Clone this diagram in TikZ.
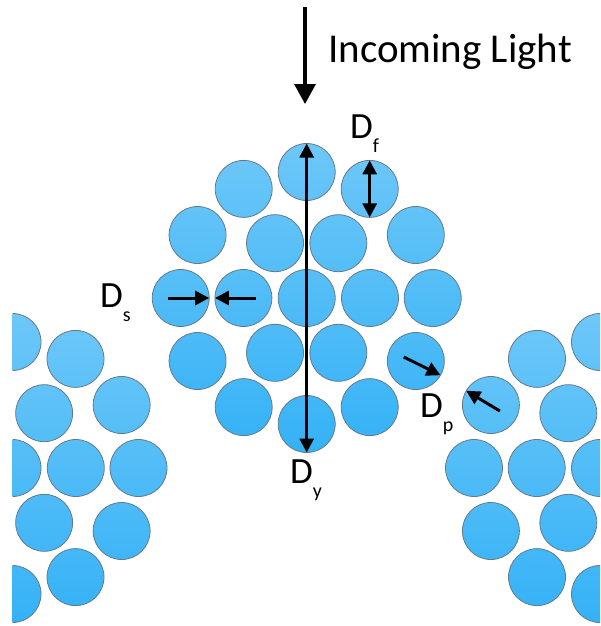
\documentclass[tikz,border=0pt]{standalone}
\usepackage{fontspec}
\setmainfont{Carlito}
\usetikzlibrary{arrows.meta}

\definecolor{fiblight}{RGB}{112,200,248}
\definecolor{fibdark}{RGB}{42,174,246}
\definecolor{fibedge}{RGB}{100,122,138}

\newcommand\dlabel[1]{D\raisebox{-14pt}{\fontsize{20}{20}\selectfont #1}}

% one bundle: centre fibre, ring of 6, ring of 12
\newcommand\fibrebundle[3]{%
  \foreach \ring/\lastk/\rad in {c/0/0,i/5/63.3,o/11/126}{%
    \foreach \k in {0,...,\lastk}{%
      \pgfmathsetmacro\ang{360*\k/(\lastk+1)}%
      \pgfmathtruncatemacro\shtop{(\rad*sin(\ang)+140)*0.25}%
      \pgfmathtruncatemacro\shbot{\shtop+20}%
      \node[fibre,top color=fibdark!\shtop!fiblight,bottom color=fibdark!\shbot!fiblight]
        (#1-\ring\k) at ({#2+\rad*cos(\ang)},{#3+\rad*sin(\ang)}) {};
    }}}

\begin{document}
\begin{tikzpicture}[x=1pt,y=-1pt,font=\fontsize{37}{37}\selectfont,
  fibre/.style={circle,draw=fibedge,line width=0.8pt,minimum size=57pt,inner sep=0pt,outer sep=0pt},
  dimarrow/.style={{Triangle[width=14pt,length=14pt]}-{Triangle[width=14pt,length=14pt]},line width=3pt},
  onearrow/.style={-{Triangle[width=14pt,length=14pt]},line width=3pt},
  dlbl/.style={anchor=base west,inner sep=0pt}]
\useasboundingbox (0,0) rectangle (600,626);
\fill[white] (0,0) rectangle (600,626);
% fibre bundles
\begin{scope}\clip (12.5,0) rectangle (600,626); \fibrebundle{lft}{12.5}{468} \end{scope}
\begin{scope}\clip (0,0) rectangle (600,626); \fibrebundle{ctr}{306.7}{298} \fibrebundle{rgt}{600}{468} \end{scope}
% incoming light
\coordinate (lighttop) at (305,7); \coordinate (lightend) at (305,104);
\draw[-{Triangle[width=21pt,length=20pt]},line width=3.2pt] (lighttop) -- (lightend);
\node[anchor=base west,inner sep=0pt,font=\fontsize{41}{41}\selectfont] (light) at (328,63) {Incoming Light};
% dimensions
\draw[dimarrow] (ctr-o9.north) -- (ctr-o3.south);
\draw[dimarrow] (ctr-o10.north) -- (ctr-o10.south);
\draw[onearrow] ([xshift=-13pt]ctr-o6.center) -- (ctr-o6.east);
\draw[onearrow] ([xshift=13pt]ctr-i3.center) -- (ctr-i3.west);
\draw[onearrow] ([shift={(-12pt,4pt)}]ctr-o1.center) -- (ctr-o1.-30);
\draw[onearrow] ([shift={(9pt,-6pt)}]rgt-o7.center) -- (rgt-o7.150);
\node[dlbl] (lblf) at (350,138) {\dlabel{f}};
\node[dlbl] (lbls) at (100,307) {\dlabel{s}};
\node[dlbl] (lbly) at (290,483) {\dlabel{y}};
\node[dlbl] (lblp) at (420,417) {\dlabel{p}};
\end{tikzpicture}
\end{document}
